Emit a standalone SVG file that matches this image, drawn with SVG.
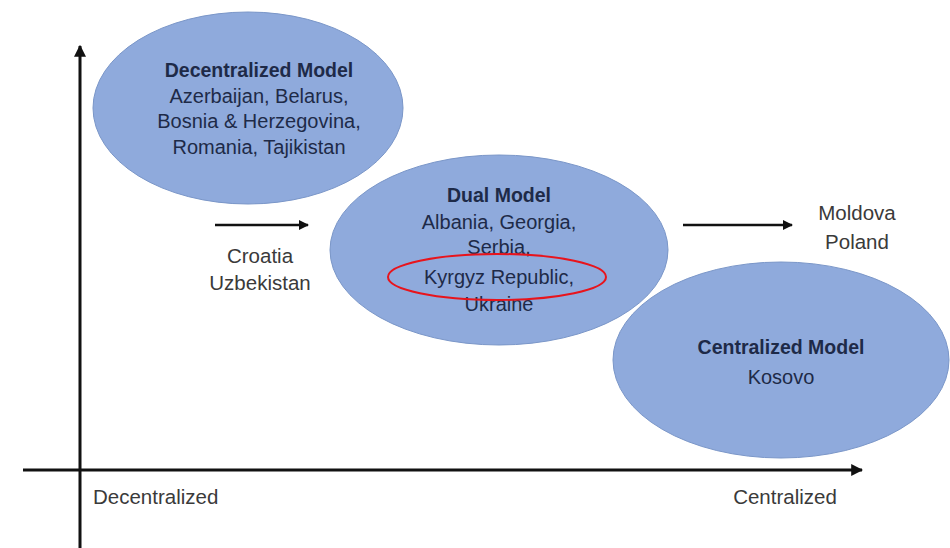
<svg xmlns="http://www.w3.org/2000/svg" width="950" height="548" viewBox="0 0 950 548">
<defs>
<marker id="ah" viewBox="0 0 10 10" refX="9" refY="5" markerWidth="4" markerHeight="4" orient="auto" markerUnits="strokeWidth">
<path d="M0,0 L10,5 L0,10 z" fill="#111"/>
</marker>
<style>
.blob{fill:#8faadc;stroke:#7a96c8;stroke-width:1}
.t{font-family:"Liberation Sans",Arial,sans-serif;font-size:20px;fill:#1e2a48;text-anchor:middle}
.b{font-weight:bold;font-size:19.5px}
.o{font-family:"Liberation Sans",Arial,sans-serif;font-size:20.5px;fill:#3a3a3a;text-anchor:middle}
.ax{stroke:#111;stroke-width:3;fill:none}
.ar{stroke:#111;stroke-width:2.5;fill:none}
</style>
</defs>
<rect width="950" height="548" fill="#fff"/>
<g id="axes">
<line class="ax" x1="80" y1="548" x2="80" y2="46" marker-end="url(#ah)"/>
<line class="ax" x1="23" y1="470" x2="862" y2="470" marker-end="url(#ah)"/>
<text class="o" x="93" y="504" style="text-anchor:start">Decentralized</text>
<text class="o" x="785" y="504">Centralized</text>
</g>
<g id="decentralized">
<ellipse class="blob" cx="248" cy="108" rx="155" ry="96"/>
<text class="t b" x="259" y="77">Decentralized Model</text>
<text class="t" x="259" y="103">Azerbaijan, Belarus,</text>
<text class="t" x="259" y="128">Bosnia &amp; Herzegovina,</text>
<text class="t" x="259" y="154">Romania, Tajikistan</text>
</g>
<g id="dual">
<ellipse class="blob" cx="499" cy="250" rx="169" ry="95"/>
<text class="t b" x="499" y="202">Dual Model</text>
<text class="t" x="499" y="229">Albania, Georgia,</text>
<text class="t" x="499" y="254">Serbia,</text>
<text class="t" x="499" y="284">Kyrgyz Republic,</text>
<text class="t" x="499" y="311">Ukraine</text>
<ellipse cx="497" cy="277" rx="109" ry="23" fill="none" stroke="#e8141c" stroke-width="2"/>
</g>
<g id="centralized">
<ellipse class="blob" cx="781" cy="360" rx="168" ry="98"/>
<text class="t b" x="781" y="354">Centralized Model</text>
<text class="t" x="781" y="384">Kosovo</text>
</g>
<g id="connectors">
<line class="ar" x1="215" y1="225" x2="308" y2="225" marker-end="url(#ah)"/>
<line class="ar" x1="683" y1="225" x2="792" y2="225" marker-end="url(#ah)"/>
</g>
<g id="labels">
<text class="o" x="260" y="263">Croatia</text>
<text class="o" x="260" y="290">Uzbekistan</text>
<text class="o" x="857" y="220">Moldova</text>
<text class="o" x="857" y="249">Poland</text>
</g>
</svg>
